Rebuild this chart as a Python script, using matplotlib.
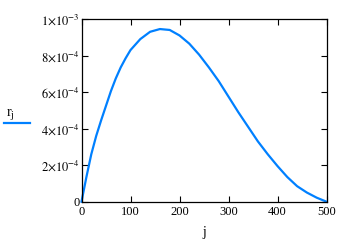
import matplotlib
matplotlib.use("Agg")
import matplotlib.pyplot as plt
from matplotlib.lines import Line2D

# values
j = [0, 10, 20, 30, 40, 50, 60, 70, 80, 90, 100, 120, 140, 160, 180, 200,
     220, 240, 260, 280, 300, 320, 340, 360, 380, 400, 420, 440, 460, 480, 500]
r = [0, 1.35, 2.6, 3.6, 4.45, 5.25, 6.05, 6.75, 7.35, 7.85, 8.3, 8.9, 9.3, 9.45,
     9.4, 9.1, 8.65, 8.05, 7.35, 6.6, 5.75, 4.9, 4.1, 3.3, 2.6, 1.95, 1.35,
     0.85, 0.5, 0.22, 0]
r = [v * 1e-4 for v in r]

xticks = [0, 100, 200, 300, 400, 500]
yticks = [0, 2e-4, 4e-4, 6e-4, 8e-4, 1e-3]
ytick_labels = ["0", r"$2{\times}10^{-4}$", r"$4{\times}10^{-4}$",
                r"$6{\times}10^{-4}$", r"$8{\times}10^{-4}$", r"$1{\times}10^{-3}$"]

plt.rcParams["font.family"] = ["Liberation Serif", "DejaVu Serif"]
plt.rcParams["mathtext.fontset"] = "stix"
blue = "#0080ff"

fig = plt.figure(figsize=(3.44, 2.41), dpi=100)
ax = fig.add_axes([81.5 / 344, (241 - 201.7) / 241, 245 / 344, 182.7 / 241])

ax.plot(j, r, color=blue, lw=1.6, clip_on=False)

ax.set_xlim(0, 500)
ax.set_ylim(0, 1e-3)
ax.set_xticks(xticks)
ax.set_xticklabels([str(t) for t in xticks])
ax.set_yticks(yticks)
ax.set_yticklabels(ytick_labels)
ax.tick_params(direction="in", length=4.3, width=0.8, top=True, right=True,
               labelsize=9, colors="black")
ax.tick_params(axis="x", pad=3)
ax.tick_params(axis="y", pad=1)
for s in ax.spines.values():
    s.set_linewidth(0.9)

ax.set_xlabel("j", fontsize=10, labelpad=6)

# trace label on the left, Mathcad style
fig.text(6 / 344, 1 - 116 / 241, r"$\mathregular{r_j}$", fontsize=10)
fig.add_artist(Line2D([4 / 344, 30 / 344], [1 - 122.7 / 241] * 2,
                      color=blue, lw=1.6, transform=fig.transFigure))

fig.savefig("out.png", dpi=100)
